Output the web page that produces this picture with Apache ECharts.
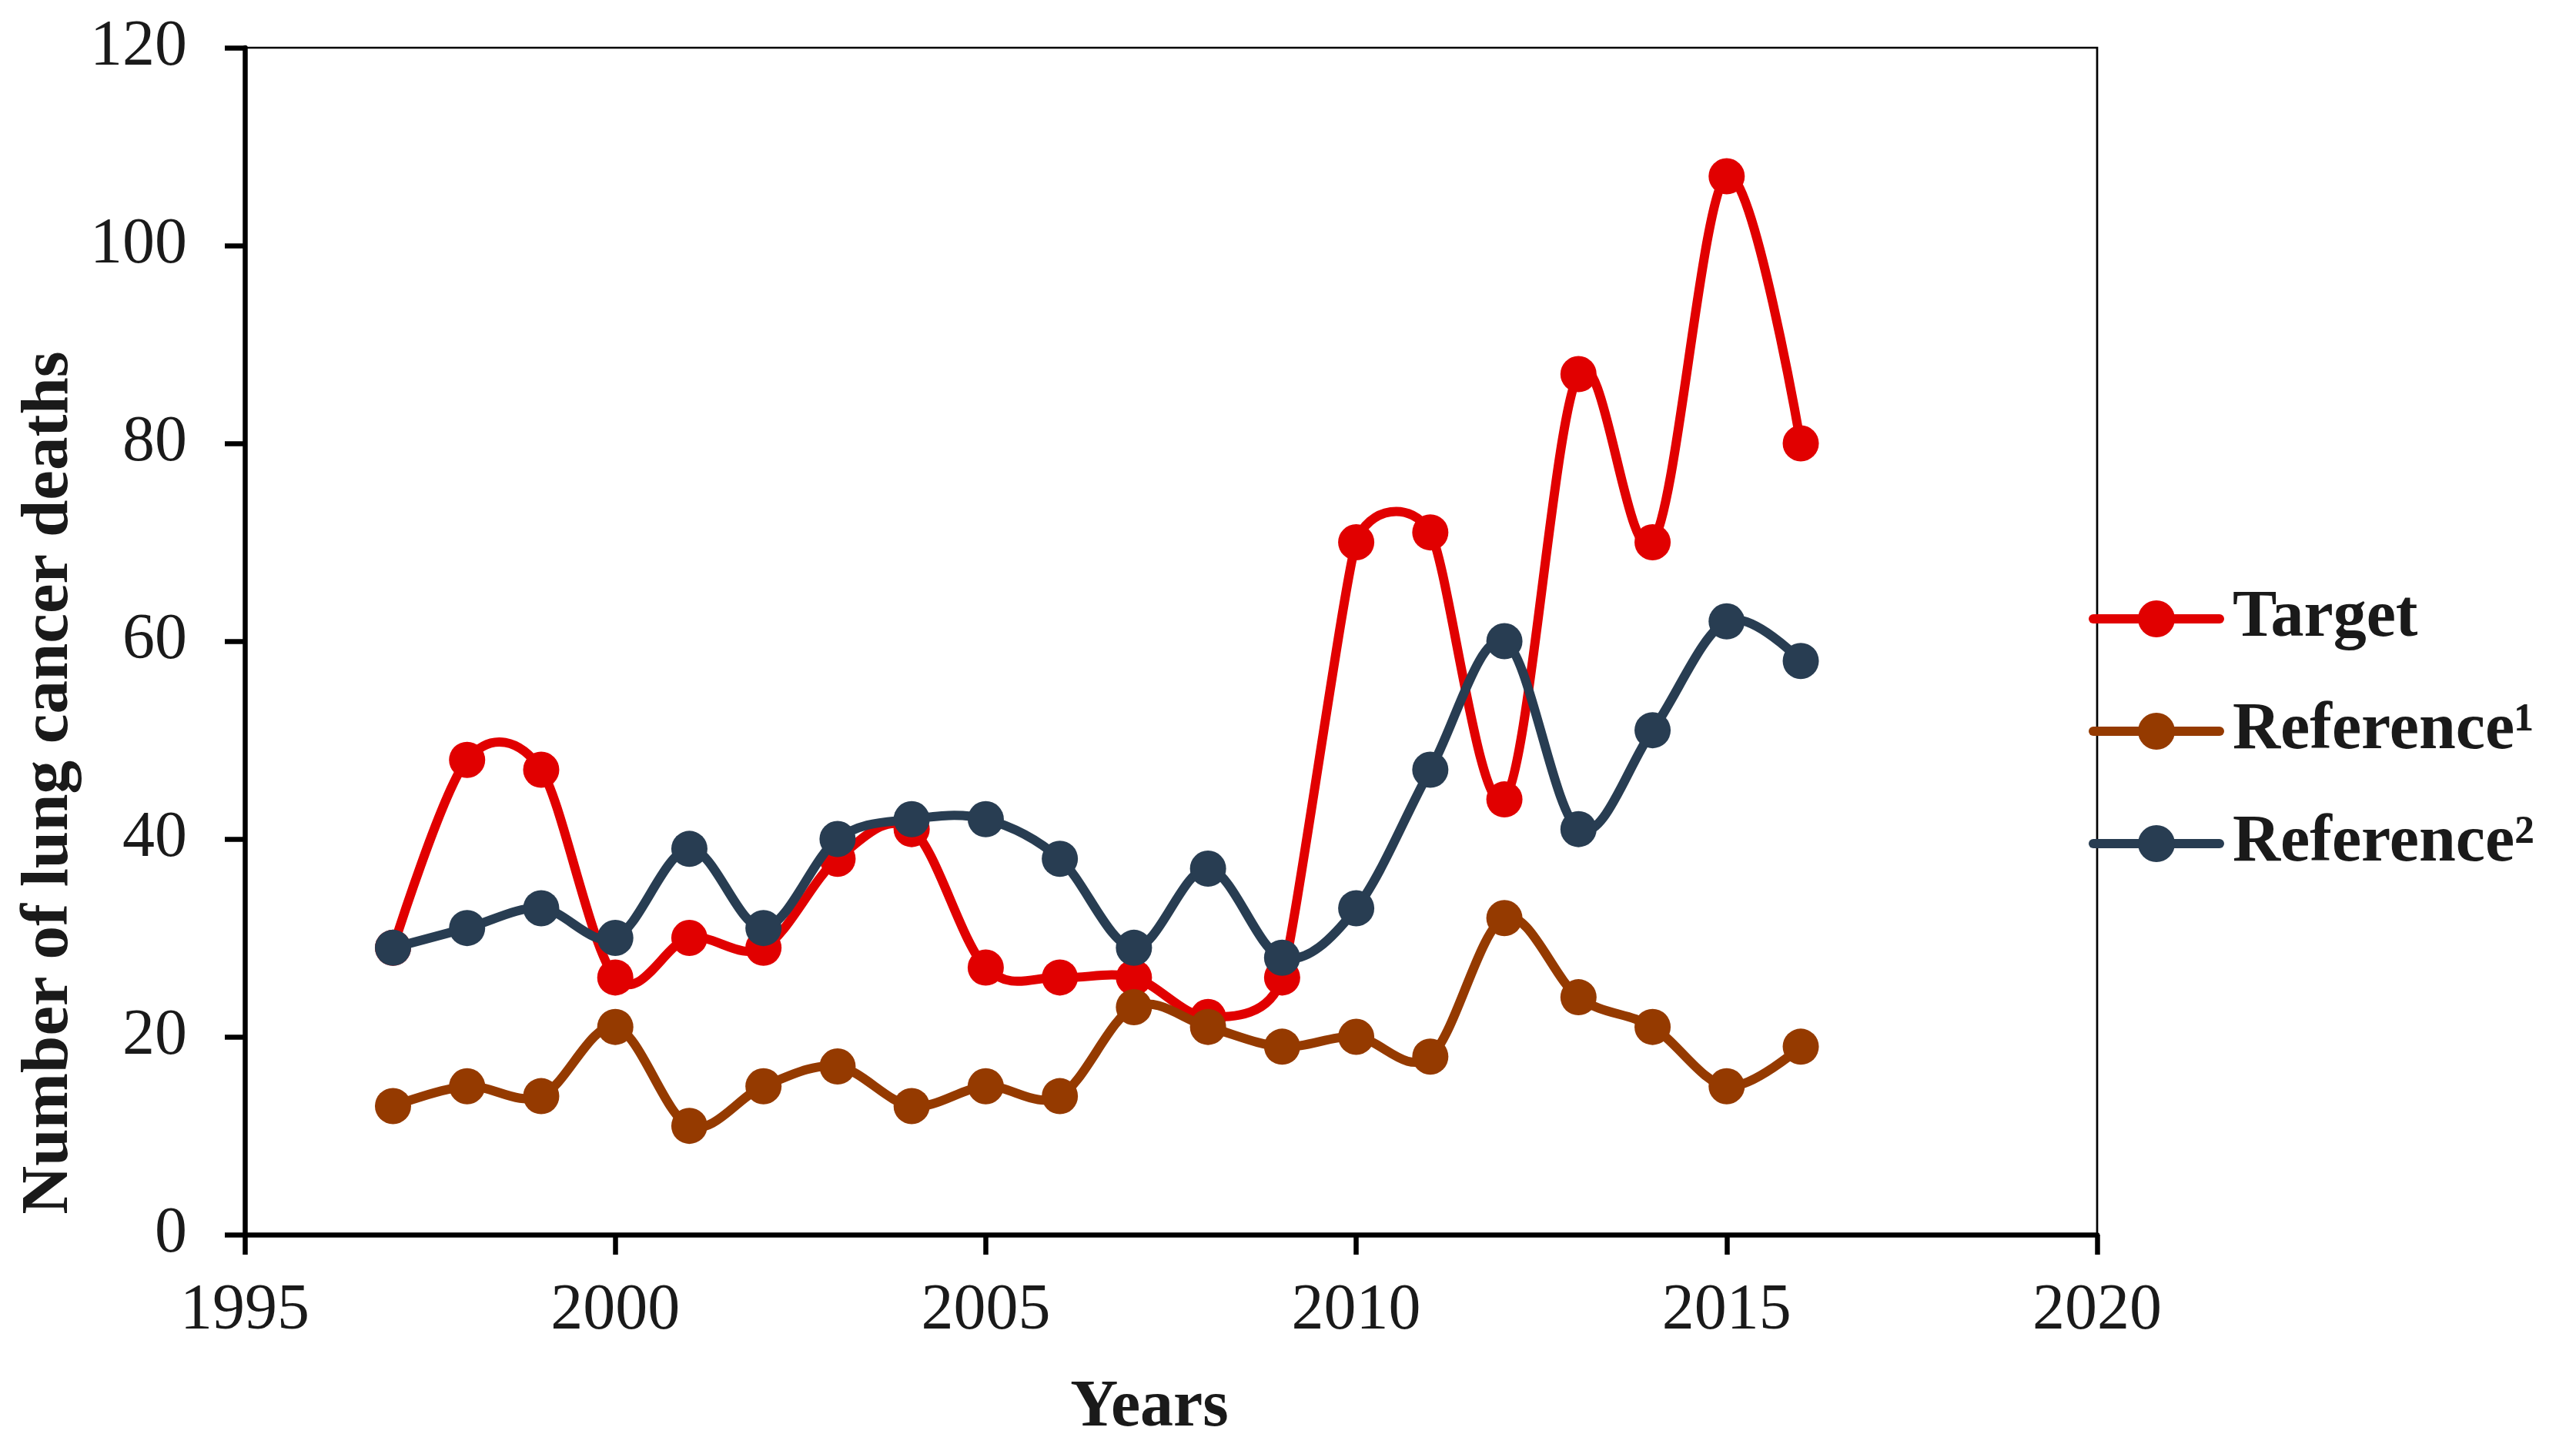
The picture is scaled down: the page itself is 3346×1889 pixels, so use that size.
<!DOCTYPE html>
<html>
<head>
<meta charset="utf-8">
<script src="https://cdn.jsdelivr.net/npm/echarts@6/dist/echarts.min.js"></script>
<style>
html,body{margin:0;padding:0;background:#fff;}
#chart{width:3346px;height:1889px;}
</style>
</head>
<body>
<div id="chart"></div>
<script>
const years = [1997,1998,1999,2000,2001,2002,2003,2004,2005,2006,2007,2008,2009,2010,2011,2012,2013,2014,2015,2016];
const target = [29,48,47,26,30,29,38,41,27,26,26,22,26,70,71,44,87,70,107,80];
const reference1 = [13,15,14,21,11,15,17,13,15,14,23,21,19,20,18,32,24,21,15,19];
const reference2 = [29,31,33,30,39,31,40,42,42,38,29,37,28,33,47,60,41,51,62,58];
const seriesNames = ['Target','Reference\u00B9','Reference\u00B2'];
const seriesColors = ['#E10000','#953A00','#283D52'];
const xTicks = [1995,2000,2005,2010,2015,2020];
const yTicks = [0,20,40,60,80,100,120];

const FONT = '"Liberation Serif","Times New Roman",serif';
const TXT = '#1a1a1a';
const LW = 12;

function pairs(vals){ return years.map((y,i)=>[y, vals[i]]); }
const allVals = [target, reference1, reference2];

// Excel-like smoothed segment between point i and i+1 (control points from neighbours, in pixel space)
function makeRender(vals, color){
  return function(params, api){
    const i = params.dataIndex;
    const n = years.length;
    if (i >= n - 1) return null;
    const P = k => api.coord([years[Math.max(0, Math.min(n-1, k))], vals[Math.max(0, Math.min(n-1, k))]]);
    const p0 = P(i-1), p1 = P(i), p2 = P(i+1), p3 = P(i+2);
    const d = (a,b) => Math.hypot(a[0]-b[0], a[1]-b[1]);
    function factor(a, b, c){
      const dac = d(a,c);
      if (dac === 0) return 0;
      const lim = Math.min(d(a,b), d(b,c)) / 2;
      return Math.min(1/6, lim / dac);
    }
    const f1 = factor(p0, p1, p2);
    const f2 = factor(p1, p2, p3);
    const c1 = [p1[0] + (p2[0]-p0[0]) * f1, p1[1] + (p2[1]-p0[1]) * f1];
    const c2 = [p2[0] - (p3[0]-p1[0]) * f2, p2[1] - (p3[1]-p1[1]) * f2];
    return {
      type:'bezierCurve',
      shape:{x1:p1[0], y1:p1[1], x2:p2[0], y2:p2[1], cpx1:c1[0], cpy1:c1[1], cpx2:c2[0], cpy2:c2[1]},
      style:{stroke:color, lineWidth:LW, lineCap:'round', fill:null}
    };
  };
}

const series = [];
seriesNames.forEach((n,i)=>{
  series.push({
    name:n + ' curve', type:'custom', coordinateSystem:'cartesian2d',
    data:pairs(allVals[i]), encode:{x:0, y:1},
    renderItem:makeRender(allVals[i], seriesColors[i]),
    silent:true, z:2+2*i
  });
  series.push({
    name:n, type:'line',
    data:pairs(allVals[i]),
    symbol:'circle', symbolSize:47,
    itemStyle:{color:seriesColors[i]},
    lineStyle:{color:seriesColors[i], width:0, opacity:0},
    z:3+2*i
  });
});

const chart = echarts.init(document.getElementById('chart'), null, {renderer:'canvas'});
chart.setOption({
  backgroundColor:'#ffffff',
  animation:false,
  grid:{left:318, top:62, right:622, bottom:285, show:true, borderColor:'#000', borderWidth:2.7, backgroundColor:'transparent'},
  xAxis:{
    type:'value', min:xTicks[0], max:xTicks[xTicks.length-1], interval:5,
    name:'Years', nameLocation:'middle', nameGap:183,
    nameTextStyle:{fontFamily:FONT, fontWeight:'bold', fontSize:86, color:TXT, padding:[0,56,0,0]},
    axisLine:{show:true, onZero:false, lineStyle:{color:'#000', width:6.5}},
    axisTick:{show:true, inside:false, length:26, lineStyle:{color:'#000', width:6.5}},
    axisLabel:{fontFamily:FONT, fontSize:84, color:TXT, margin:58, formatter:v => String(v)},
    splitLine:{show:false}
  },
  yAxis:{
    type:'value', min:yTicks[0], max:yTicks[yTicks.length-1], interval:20,
    axisLine:{show:true, onZero:false, lineStyle:{color:'#000', width:6.5}},
    axisTick:{show:true, inside:false, length:26, lineStyle:{color:'#000', width:6.5}},
    axisLabel:{fontFamily:FONT, fontSize:84, color:TXT, margin:75, formatter:v => String(v)},
    splitLine:{show:false}
  },
  legend:{
    orient:'vertical', left:2708, top:756,
    itemWidth:164, itemHeight:60, itemGap:60,
    lineStyle:{width:LW, opacity:1, cap:'round'},
    textStyle:{fontFamily:FONT, fontWeight:'bold', fontSize:86, color:TXT, lineHeight:86, padding:[0,0,0,12]},
    data:seriesNames
  },
  graphic:[{
    type:'text', x:65, y:1017, rotation:Math.PI/2,
    style:{text:'Number of lung cancer deaths', fontFamily:FONT, fontWeight:'bold', fontSize:87, fill:TXT, align:'center', verticalAlign:'middle'}
  }],
  series:series
});
</script>
</body>
</html>
